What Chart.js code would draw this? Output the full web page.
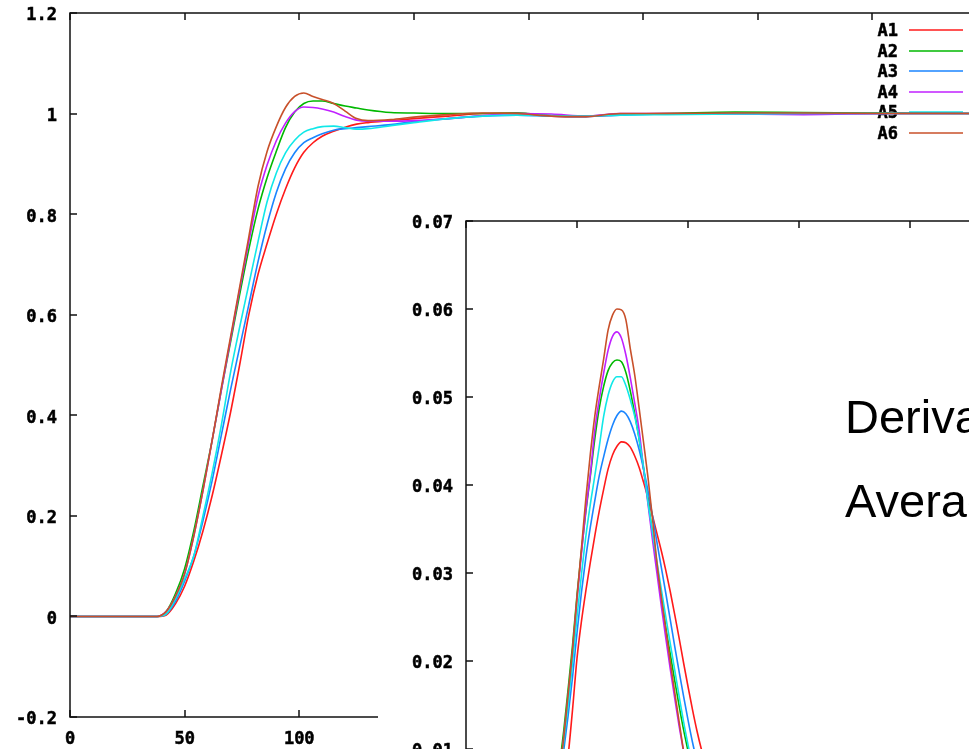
<!DOCTYPE html>
<html>
<head>
<meta charset="utf-8">
<script src="https://cdn.jsdelivr.net/npm/chart.js@4.4.1/dist/chart.umd.min.js"></script>
<style>
  html, body { margin: 0; padding: 0; overflow: hidden; background: #fff; }
  #stage { position: relative; width: 969px; height: 749px; overflow: hidden; background: #fff; }
  #mainBox { position: absolute; left: 0; top: 0; width: 1010px; height: 749px; }
  #insetBox { position: absolute; left: 378px; top: 195px; width: 680px; height: 690px; background: #fff; }
  .note { position: absolute; left: 845px; font-family: "Liberation Sans", Arial, sans-serif; font-size: 47px;
          line-height: 1; color: #000; white-space: nowrap; z-index: 5; }
</style>
</head>
<body>
<div id="stage">
  <div id="mainBox"><canvas id="mainChart"></canvas></div>
  <div id="insetBox"><canvas id="insetChart"></canvas></div>
  <div class="note" style="top:393px">Derivative</div>
  <div class="note" style="top:477px">Average</div>
</div>
<script>
// ---- series names and colours (gnuplot default line types) ----
const seriesNames = ['A1', 'A2', 'A3', 'A4', 'A5', 'A6'];
const seriesColors = ['#ff1a1a', '#00b800', '#1a85ff', '#c020ff', '#10e8e8', '#c8502a'];

// ---- step response (main plot) ----
const timeSteps = [0, 38, 42, 46, 50, 54, 58, 62, 66, 70, 74, 78, 82, 86, 90, 94, 98, 102, 106, 110,
                   115, 120, 125, 130, 140, 150, 165, 180, 195, 210, 225, 240, 260, 290, 320, 360, 400];

const stepA1 = [0, 0, 0.003, 0.025, 0.06, 0.11, 0.17, 0.24, 0.32, 0.405, 0.5, 0.6, 0.68, 0.742, 0.8, 0.85, 0.892, 0.923, 0.942, 0.955,
                0.965, 0.973, 0.979, 0.982, 0.986, 0.99, 0.995, 1.0, 1.001, 0.995, 0.994, 0.998, 1.0, 1.0, 1.0, 1.0, 1.0];
const stepA2 = [0, 0, 0.01, 0.045, 0.095, 0.17, 0.26, 0.35, 0.45, 0.545, 0.64, 0.73, 0.81, 0.873, 0.925, 0.972, 1.003, 1.02, 1.025, 1.025,
                1.02, 1.015, 1.011, 1.007, 1.002, 1.001, 1.0, 1.0, 1.001, 0.996, 0.995, 0.999, 1.0, 1.003, 1.002, 1.001, 1.0];
const stepA3 = [0, 0, 0.005, 0.03, 0.07, 0.12, 0.19, 0.27, 0.36, 0.45, 0.535, 0.62, 0.705, 0.78, 0.843, 0.89, 0.922, 0.942, 0.952, 0.96,
                0.967, 0.97, 0.972, 0.974, 0.978, 0.984, 0.99, 0.995, 0.997, 0.995, 0.994, 0.997, 0.999, 1.0, 1.0, 1.0, 1.0];
const stepA4 = [0, 0, 0.01, 0.04, 0.085, 0.16, 0.25, 0.35, 0.45, 0.55, 0.65, 0.745, 0.835, 0.898, 0.946, 0.981, 1.004, 1.013, 1.012, 1.009,
                1.003, 0.994, 0.987, 0.985, 0.985, 0.986, 0.99, 0.996, 1.0, 0.999, 0.995, 1.0, 1.0, 0.999, 0.998, 1.0, 1.0];
const stepA5 = [0, 0, 0.005, 0.035, 0.075, 0.12, 0.2, 0.285, 0.38, 0.485, 0.575, 0.66, 0.745, 0.825, 0.882, 0.922, 0.947, 0.963, 0.97, 0.974,
                0.975, 0.972, 0.969, 0.97, 0.976, 0.982, 0.99, 0.995, 0.997, 0.996, 0.995, 0.997, 0.998, 0.999, 1.0, 1.0, 1.0];
const stepA6 = [0, 0, 0.01, 0.04, 0.085, 0.16, 0.25, 0.35, 0.455, 0.555, 0.655, 0.755, 0.855, 0.925, 0.974, 1.012, 1.034, 1.041, 1.034, 1.028,
                1.02, 1.005, 0.99, 0.986, 0.988, 0.993, 0.998, 1.001, 1.0, 0.995, 0.994, 1.0, 1.0, 1.001, 1.001, 1.0, 1.0];

// ---- derivative (inset plot) ----
const derivTime = [0, 36, 40, 42, 44, 46, 48, 50, 52, 54, 56, 58, 60, 62, 64, 66, 68, 70, 72, 74, 76, 78, 80,
                   82, 84, 86, 88, 90, 92, 94, 96, 98, 100, 102, 104, 106, 110, 120, 140, 200, 250];

const derivA1 = [0, 0, 0.001, 0.0025, 0.005, 0.0092, 0.0145, 0.0203, 0.0245, 0.028, 0.0312, 0.0342, 0.037, 0.0395, 0.0418, 0.0434, 0.0444, 0.0449, 0.0448, 0.0443, 0.0433, 0.042, 0.0403,
                 0.0385, 0.0365, 0.0345, 0.0325, 0.0303, 0.0279, 0.0253, 0.0226, 0.0198, 0.0171, 0.0145, 0.0121, 0.01, 0.0065, 0.0015, 0, 0, 0];
const derivA2 = [0, 0, 0.0035, 0.0078, 0.012, 0.0168, 0.0218, 0.0275, 0.0325, 0.037, 0.041, 0.0452, 0.0487, 0.0512, 0.053, 0.0539, 0.0542, 0.054, 0.0528, 0.0507, 0.0481, 0.0452, 0.0418,
                 0.0382, 0.0345, 0.0308, 0.0272, 0.0238, 0.0208, 0.0178, 0.0149, 0.0122, 0.0098, 0.0075, 0.0055, 0.0038, 0.0015, 0, 0, 0, 0];
const derivA3 = [0, 0, 0.0025, 0.006, 0.0098, 0.0138, 0.0182, 0.0232, 0.0278, 0.0318, 0.0352, 0.0382, 0.041, 0.0432, 0.0452, 0.0468, 0.0479, 0.0484, 0.0481, 0.0472, 0.0458, 0.044, 0.0418,
                 0.0393, 0.0365, 0.0335, 0.0306, 0.0277, 0.0247, 0.0217, 0.0188, 0.016, 0.0133, 0.0108, 0.0086, 0.0066, 0.0035, 0.0005, 0, 0, 0];
const derivA4 = [0, 0, 0.003, 0.0072, 0.0112, 0.016, 0.021, 0.027, 0.0322, 0.0372, 0.0412, 0.0462, 0.0497, 0.0527, 0.0553, 0.0569, 0.0574, 0.0567, 0.0548, 0.0522, 0.0493, 0.0462, 0.0418,
                 0.0378, 0.0338, 0.03, 0.0262, 0.0226, 0.0191, 0.0158, 0.0126, 0.0097, 0.0071, 0.005, 0.0034, 0.0022, 0.0009, 0, 0, 0, 0];
const derivA5 = [0, 0, 0.003, 0.0068, 0.0108, 0.015, 0.0198, 0.025, 0.0298, 0.0342, 0.0378, 0.041, 0.0443, 0.0478, 0.0502, 0.0517, 0.0523, 0.0523, 0.0513, 0.0497, 0.0478, 0.0452, 0.042,
                 0.038, 0.0346, 0.0313, 0.0281, 0.025, 0.022, 0.019, 0.016, 0.0131, 0.0105, 0.0081, 0.006, 0.0043, 0.0018, 0, 0, 0, 0];
const derivA6 = [0, 0, 0.003, 0.0072, 0.0112, 0.0162, 0.0212, 0.0272, 0.0328, 0.0385, 0.0435, 0.0478, 0.0512, 0.0543, 0.0576, 0.0593, 0.06, 0.0599, 0.0588, 0.0555, 0.0525, 0.0487, 0.0448,
                 0.0408, 0.0362, 0.0312, 0.0272, 0.0236, 0.0199, 0.0165, 0.0131, 0.0098, 0.007, 0.0048, 0.0032, 0.002, 0.0008, 0, 0, 0, 0];

// ---- axis ticks ----
const mainXTicks = [0, 50, 100, 150, 200, 250, 300, 350, 400];
const mainXLabels = ['0', '50', '100', '150', '200', '250', '300', '350', '400'];
const mainYTicks = [-0.2, 0, 0.2, 0.4, 0.6, 0.8, 1, 1.2];
const mainYLabels = ['-0.2', '0', '0.2', '0.4', '0.6', '0.8', '1', '1.2'];
const insetXTicks = [0, 50, 100, 150, 200, 250];
const insetXLabels = ['0', '50', '100', '150', '200', '250'];
const insetYTicks = [0, 0.01, 0.02, 0.03, 0.04, 0.05, 0.06, 0.07];
const insetYLabels = ['0', '0.01', '0.02', '0.03', '0.04', '0.05', '0.06', '0.07'];

const stepSeries = [stepA1, stepA2, stepA3, stepA4, stepA5, stepA6];
const derivSeries = [derivA1, derivA2, derivA3, derivA4, derivA5, derivA6];

const tickFont = { family: '"DejaVu Sans Mono", monospace', size: 17, weight: 'bold' };

function makeDatasets(xs, series) {
  return series.map((ys, i) => ({
    label: seriesNames[i],
    data: xs.map((x, k) => ({ x: x, y: ys[k] })),
    borderColor: seriesColors[i],
    backgroundColor: seriesColors[i],
    borderWidth: 1.6,
    pointRadius: 0,
    fill: false,
    cubicInterpolationMode: 'monotone',
    order: series.length - i   // A6 ends up drawn last, on top
  }));
}

// gnuplot-style frame: full border box with inward tick marks on all four sides
const gnuFrame = {
  id: 'gnuFrame',
  afterDatasetsDraw(chart) {
    const { ctx, chartArea: a, scales } = chart;
    const len = 7;
    ctx.save();
    ctx.strokeStyle = '#111';
    ctx.lineWidth = 1.5;
    ctx.strokeRect(a.left, a.top, a.right - a.left, a.bottom - a.top);
    ctx.beginPath();
    scales.x.ticks.forEach(t => {
      const px = Math.round(scales.x.getPixelForValue(t.value));
      ctx.moveTo(px, a.bottom); ctx.lineTo(px, a.bottom - len);
      ctx.moveTo(px, a.top); ctx.lineTo(px, a.top + len);
    });
    scales.y.ticks.forEach(t => {
      const py = Math.round(scales.y.getPixelForValue(t.value));
      ctx.moveTo(a.left, py); ctx.lineTo(a.left + len, py);
      ctx.moveTo(a.right, py); ctx.lineTo(a.right - len, py);
    });
    ctx.stroke();
    ctx.restore();
  }
};

// gnuplot-style key: right-aligned label followed by a short line sample
const gnuKey = {
  id: 'gnuKey',
  beforeDatasetsDraw(chart, args, opts) {
    if (!opts || !opts.show) return;
    const { ctx, chartArea: a } = chart;
    ctx.save();
    ctx.font = 'bold 17px "DejaVu Sans Mono", monospace';
    ctx.textAlign = 'right';
    ctx.textBaseline = 'middle';
    ctx.lineJoin = 'round';
    chart.data.datasets.forEach((ds, i) => {
      const y = Math.round(a.top + 17 + i * 20.6);
      ctx.fillStyle = '#000';
      ctx.strokeStyle = '#000';
      ctx.lineWidth = 0.5;
      ctx.fillText(ds.label, a.right - 89, y + 2);
      ctx.strokeText(ds.label, a.right - 89, y + 2);
      ctx.strokeStyle = ds.borderColor;
      ctx.lineWidth = 1.6;
      ctx.beginPath();
      ctx.moveTo(a.right - 78, y);
      ctx.lineTo(a.right - 24, y);
      ctx.stroke();
    });
    ctx.restore();
  }
};

function axis(min, max, ticks, labels, fitKey, fitSize, pad, offset) {
  return {
    type: 'linear', min: min, max: max,
    afterBuildTicks: s => { s.ticks = ticks.map(v => ({ value: v })); },
    afterFit: s => {
      s[fitKey] = fitSize;
      // the frame is placed by the layout padding alone
      s.paddingTop = 0; s.paddingBottom = 0; s.paddingLeft = 0; s.paddingRight = 0;
    },
    grid: { display: false, drawTicks: false },
    border: { display: false },
    ticks: { font: tickFont, color: '#000', padding: pad, autoSkip: false, maxRotation: 0,
             labelOffset: offset, textStrokeColor: '#000', textStrokeWidth: 0.5,
             callback: (v, i) => labels[i] }
  };
}

new Chart(document.getElementById('mainChart'), {
  type: 'line',
  data: { datasets: makeDatasets(timeSteps, stepSeries) },
  options: {
    responsive: true, maintainAspectRatio: false, animation: false,
    layout: { padding: { left: 0, top: 13, right: 23, bottom: 0 } },
    plugins: { legend: { display: false }, tooltip: { enabled: false }, gnuKey: { show: true } },
    scales: {
      x: axis(0, 400, mainXTicks, mainXLabels, 'height', 32, 12, 0),
      y: axis(-0.2, 1.2, mainYTicks, mainYLabels, 'width', 70, 13, 3)
    }
  },
  plugins: [gnuFrame, gnuKey]
});

new Chart(document.getElementById('insetChart'), {
  type: 'line',
  data: { datasets: makeDatasets(derivTime, derivSeries) },
  options: {
    responsive: true, maintainAspectRatio: false, animation: false,
    layout: { padding: { left: 0, top: 26, right: 37, bottom: 0 } },
    plugins: { legend: { display: false }, tooltip: { enabled: false }, gnuKey: { show: false } },
    scales: {
      x: axis(0, 250, insetXTicks, insetXLabels, 'height', 48, 12, 0),
      y: axis(0, 0.07, insetYTicks, insetYLabels, 'width', 88, 13, 3)
    }
  },
  plugins: [gnuFrame, gnuKey]
});
</script>
</body>
</html>
